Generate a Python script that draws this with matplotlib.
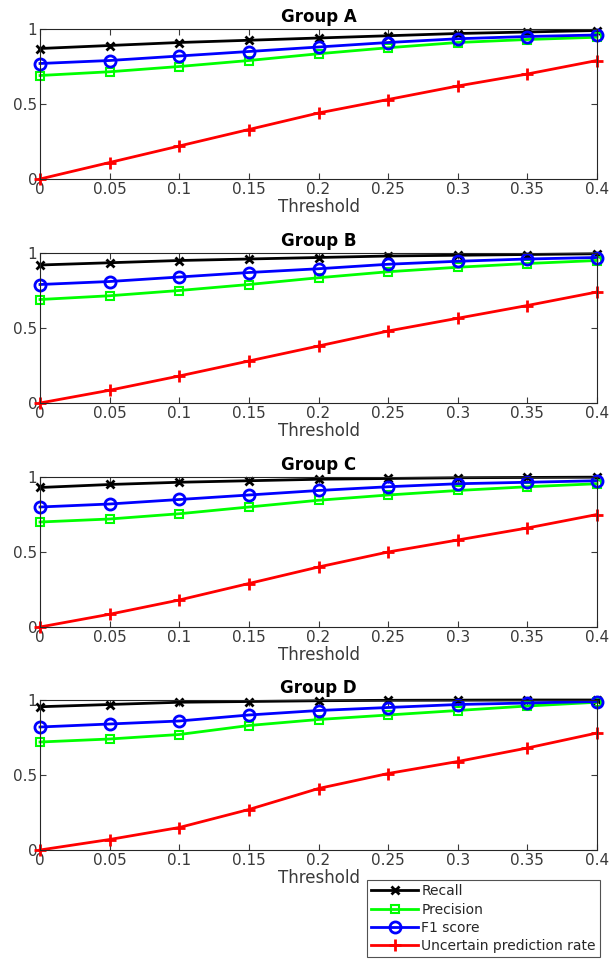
import matplotlib
matplotlib.use("Agg")
import matplotlib.pyplot as plt

thresholds = [0, 0.05, 0.1, 0.15, 0.2, 0.25, 0.3, 0.35, 0.4]
xtick_labels = ["0", "0.05", "0.1", "0.15", "0.2", "0.25", "0.3", "0.35", "0.4"]
groups = ["Group A", "Group B", "Group C", "Group D"]
series_names = ["Recall", "Precision", "F1 score", "Uncertain prediction rate"]

recall_A = [0.87, 0.89, 0.91, 0.925, 0.94, 0.955, 0.97, 0.98, 0.99]
precision_A = [0.69, 0.715, 0.75, 0.79, 0.835, 0.875, 0.91, 0.93, 0.945]
f1_A = [0.77, 0.79, 0.82, 0.85, 0.88, 0.91, 0.935, 0.95, 0.96]
uncertain_A = [0.0, 0.11, 0.22, 0.33, 0.44, 0.53, 0.62, 0.70, 0.79]

recall_B = [0.92, 0.935, 0.95, 0.96, 0.97, 0.98, 0.985, 0.99, 0.995]
precision_B = [0.69, 0.715, 0.75, 0.79, 0.835, 0.875, 0.905, 0.93, 0.95]
f1_B = [0.79, 0.81, 0.84, 0.87, 0.895, 0.925, 0.945, 0.96, 0.97]
uncertain_B = [0.0, 0.085, 0.18, 0.28, 0.38, 0.48, 0.565, 0.65, 0.74]

recall_C = [0.93, 0.95, 0.965, 0.975, 0.985, 0.99, 0.995, 0.997, 0.999]
precision_C = [0.70, 0.72, 0.755, 0.80, 0.845, 0.88, 0.91, 0.935, 0.955]
f1_C = [0.80, 0.82, 0.85, 0.88, 0.91, 0.935, 0.955, 0.965, 0.975]
uncertain_C = [0.0, 0.085, 0.18, 0.29, 0.40, 0.50, 0.58, 0.66, 0.75]

recall_D = [0.955, 0.97, 0.985, 0.99, 0.995, 0.998, 0.999, 1.0, 1.0]
precision_D = [0.72, 0.74, 0.77, 0.83, 0.87, 0.90, 0.93, 0.96, 0.985]
f1_D = [0.82, 0.84, 0.86, 0.90, 0.93, 0.95, 0.97, 0.98, 0.99]
uncertain_D = [0.0, 0.07, 0.15, 0.27, 0.41, 0.51, 0.59, 0.68, 0.78]

data = [
    (recall_A, precision_A, f1_A, uncertain_A),
    (recall_B, precision_B, f1_B, uncertain_B),
    (recall_C, precision_C, f1_C, uncertain_C),
    (recall_D, precision_D, f1_D, uncertain_D),
]

styles = [
    dict(color="black", marker="x", markersize=6, markeredgewidth=2.0),
    dict(color="#00ff00", marker="s", markersize=6, markerfacecolor="none", markeredgewidth=1.5),
    dict(color="blue", marker="o", markersize=8, markerfacecolor="none", markeredgewidth=2.0),
    dict(color="red", marker="+", markersize=9, markeredgewidth=2.0),
]

fig = plt.figure(figsize=(6.11, 9.59), dpi=100)
W, H = 611, 959
left, right = 40, 597
tops = [29, 253, 477, 700]
height = 150

txtc = "#3a3a3a"
lines_for_legend = None
for gi, (name, vals) in enumerate(zip(groups, data)):
    top = tops[gi]
    ax = fig.add_axes([left / W, 1 - (top + height) / H, (right - left) / W, height / H])
    handles = []
    for s, v, st in zip(series_names, vals, styles):
        h, = ax.plot(thresholds, v, linewidth=2.0, label=s, clip_on=False, **st)
        handles.append(h)
    lines_for_legend = handles
    ax.set_xlim(0, 0.4)
    ax.set_ylim(0, 1)
    ax.set_xticks(thresholds)
    ax.set_xticklabels(xtick_labels)
    ax.set_yticks([0, 0.5, 1])
    ax.set_yticklabels(["0", "0.5", "1"])
    ax.tick_params(direction="in", top=True, right=True, length=4, labelsize=11,
                   colors=txtc, pad=2)
    for sp in ax.spines.values():
        sp.set_color("#262626")
        sp.set_linewidth(0.8)
    ax.set_xlabel("Threshold", fontsize=12, color=txtc, labelpad=1)
    ax.set_title(name, fontsize=12, fontweight="bold", pad=5)

fig.legend(lines_for_legend, series_names, loc="lower left",
           bbox_to_anchor=(367 / W, 2 / H), ncol=1, fontsize=10,
           frameon=True, fancybox=False, edgecolor="#262626",
           borderpad=0.3, labelspacing=0.3, handlelength=3.4, handletextpad=0.2,
           borderaxespad=0)
leg = fig.legends[0]
leg.get_frame().set_linewidth(0.8)
for t in leg.get_texts():
    t.set_color("#262626")

fig.savefig("out.png", dpi=100)
